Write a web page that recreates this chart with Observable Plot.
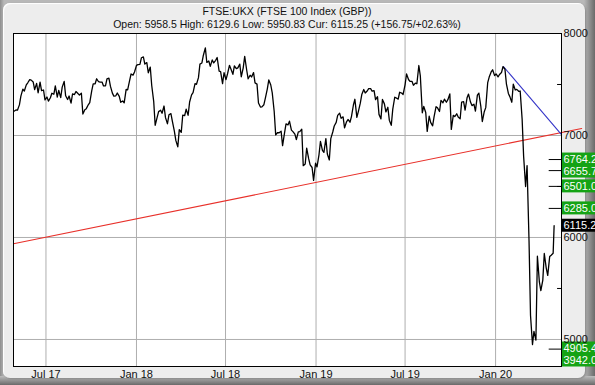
<!DOCTYPE html>
<html><head><meta charset="utf-8">
<script src="https://cdn.jsdelivr.net/npm/d3@7"></script>
<script src="https://cdn.jsdelivr.net/npm/@observablehq/plot@0.6"></script>
<style>
body{margin:0;background:#fff;}
#wrap{position:relative;width:595px;height:385px;overflow:hidden;background:linear-gradient(to right,#8e8e8e 0px,#b8b8b8 4px,#b8b8b8 584px,#6a6a6a 595px);font-family:"Liberation Sans",Arial,sans-serif;}
#bot{position:absolute;left:0;top:376px;width:595px;height:9px;background:linear-gradient(to bottom,#bdbdbd,#6a6a6a);}
#panel{position:absolute;left:3px;top:3px;width:582px;height:375px;background:#ededed;border-radius:7px;box-shadow:inset 1px 1px 1px #ffffff, 1px 1px 2px #8a8a8a;}
#chart{position:absolute;left:0;top:0;}
.t{position:absolute;left:13px;width:548px;text-align:center;font-size:10.5px;line-height:13px;color:#111;white-space:nowrap;}
</style></head>
<body>
<div id="wrap">
  <div id="bot"></div>
  <div id="panel"></div>
  <div class="t" style="top:5px">FTSE:UKX (FTSE 100 Index (GBP))</div>
  <div class="t" style="top:18px">Open: 5958.5 High: 6129.6 Low: 5950.83 Cur: 6115.25 (+156.75/+02.63%)</div>
  <div id="chart"></div>
</div>
<script>
// ---- data (Mon/Thu samples) ----
const start2017 = "2017-04-27";
const close2017 = [7237,7250,7248,7300,7386,7455,7436,7496,7517,7548,
  7543,7525,7450,7511,7419,7523,7439,7446,7350,
  7377,7337,7370,7414,7404,7487,7377,7443,7372,
  7474,7531,7389,7353,7387,7318,7407,7401,7431,
  7411,7397,7414,7210,7253,7263,7301,7323,
  7438,7507,7507,7556,7527,7523,7524,7486,7487,
  7555,7562,7484,7415,7386,7389,7417,7383,7326,
  7338,7320,7453,7448,7537,7603,7592,7622];
const start2018 = "2018-01-01";
const close2018 = [7688,7695,7697,7762,7770,7700,7715,7615,7671,
  7490,7335,7100,7177,7234,7248,7218,7289,
  7175,7115,7203,7214,7139,7042,6952,6888,7057,
  7030,7199,7194,7258,7198,7328,7398,7421,7509,
  7502,7567,7700,7711,7787,7859,7716,7730,7678,
  7741,7712,7737,7765,7631,7627,7509,7615,
  7547,7603,7688,7651,7600,7683,7655,7663,7700,
  7576,7663,7776,7642,7556,7591,7574,7617,7516,
  7504,7318,7279,7281,7302,7367,7458,7545,
  7495,7418,7233,7006,7029,7027,7042,6900,7026,
  7114,7104,7140,7053,7038,7013,6960,7036,7038,
  7062,6704,6721,6877,6773,6711,6686,6560,6728];
const start2019 = "2019-01-01";
const close2019 = [6692,6810,6943,6855,6834,6970,6818,6760,6969,
  7034,7093,7129,7197,7219,7168,7183,7075,
  7134,7157,7130,7185,7299,7355,7177,7234,
  7317,7401,7451,7417,7436,7460,7459,7434,7440,
  7351,7380,7207,7163,7353,7310,7231,7277,7150,
  7100,7259,7375,7368,7357,7424,7416,7402,
  7497,7603,7549,7530,7531,7493,7514,7507,7686,
  7585,7223,7285,7226,7040,7189,7128,7095,7184,
  7282,7271,7235,7344,7321,7356,7326,7351,7408,
  7060,7198,7186,7213,7182,7164,7328,7331,7248,
  7369,7406,7328,7293,7307,7239,7396,7416,
  7286,7137,7233,7273,7519,7573,7623,7644,7587];
const start2020 = "2020-01-01";
const close2020 = [7604,7575,7598,7617,7674,7651,7507,7412,7381,
  7326,7504,7446,7452,7433,7436,7156,6796,
  6500,6705,5965,5237,4950,5080,4994,5816,5564,
  5480,5582,5843,5700,5628,5813,5826,5846];
const lastDate = "2020-04-29";
const lastClose = 6115.25;

const trendDates = ["2017-04-26", "2020-06-24"];   // red support line
const trendValues = [5938, 7069];
const resistDates = ["2020-01-17", "2020-05-14"];  // blue line
const resistValues = [7676, 7008];

const targetLevels = [6764.2, 6655.7, 6501.0, 6285.0, 4905.4, 3942.0];
const targetLabels = ["6764.2", "6655.7", "6501.0", "6285.0", "4905.4", "3942.0"];
const currentLevel = 6115.2;
const currentLabel = "6115.2";

const xTickDates = ["2017-07-01","2018-01-01","2018-07-01","2019-01-01","2019-07-01","2020-01-01"];
const yTickValues = [8000, 7000, 6000, 5000];
const yMinorValues = [7500, 6500, 5500];
const xDomainDates = ["2017-04-26", "2020-05-14"];
const yDomainValues = [4735, 8000];

// ---- build ----
const parse = d3.utcParse("%Y-%m-%d");
function monThu(startStr, values) {
  const out = []; const d = parse(startStr); let i = 0;
  while (i < values.length) {
    const wd = d.getUTCDay();
    if (wd === 1 || wd === 4) { out.push({date: new Date(d), value: values[i]}); i++; }
    d.setUTCDate(d.getUTCDate() + 1);
  }
  return out;
}
const series = [
  ...monThu(start2017, close2017), ...monThu(start2018, close2018),
  ...monThu(start2019, close2019), ...monThu(start2020, close2020),
  {date: parse(lastDate), value: lastClose}
];
const trend = trendDates.map((d, i) => ({date: parse(d), value: trendValues[i]}));
const resist = resistDates.map((d, i) => ({date: parse(d), value: resistValues[i]}));
const xDomain = xDomainDates.map(parse);
const xEnd = xDomain[1];
const xTicks = xTickDates.map(parse);
const dayOff = (n) => new Date(+xEnd - n * 864e5);

const W = 595, H = 385;
const dims = {width: W, height: H, marginLeft: 13, marginRight: 34, marginTop: 33, marginBottom: 19};
const probe = Plot.plot({...dims, x: {type: "utc", domain: xDomain}, y: {domain: yDomainValues}, marks: []});
const ys = probe.scale("y");

// label layout in pixels (avoid overlap, keep inside the frame)
let labels = targetLevels.map((v, i) => ({v, text: targetLabels[i], fill: "#15a315"}))
  .concat([{v: currentLevel, text: currentLabel, fill: "#000000"}])
  .sort((a, b) => b.v - a.v);
const boxH = 12;
labels.forEach(l => l.py = ys.apply(l.v));
for (let i = 1; i < labels.length; i++) labels[i].py = Math.max(labels[i].py, labels[i-1].py + boxH);
const bottomPx = H - dims.marginBottom - boxH / 2;
labels[labels.length-1].py = Math.min(labels[labels.length-1].py, bottomPx);
for (let i = labels.length - 2; i >= 0; i--) labels[i].py = Math.min(labels[i].py, labels[i+1].py - boxH);
labels.forEach(l => { l.y = ys.invert(l.py); l.y1 = ys.invert(l.py + boxH/2 + 0.5); l.y2 = ys.invert(l.py - boxH/2 - 0.5); });
const greenLabels = labels.filter(l => l.fill !== "#000000");
const blackLabels = labels.filter(l => l.fill === "#000000");
const inRangeTargets = targetLevels.filter(v => v >= yDomainValues[0] && v <= yDomainValues[1]);
const farRight = new Date(+xEnd + 120 * 864e5);

const chart = Plot.plot({
  ...dims,
  x: {type: "utc", domain: xDomain, label: null},
  y: {domain: yDomainValues, label: null},
  style: {background: "transparent", fontFamily: "'Liberation Sans', Arial, sans-serif", fontSize: "11px", color: "#111", overflow: "visible"},
  marks: [
    Plot.frame({fill: "white"}),
    Plot.gridX(xTicks, {stroke: "#aeaeae", strokeOpacity: 1}),
    Plot.gridY(yTickValues, {stroke: "#aeaeae", strokeOpacity: 1}),
    Plot.ruleY(yMinorValues, {x1: dayOff(8), x2: xEnd, stroke: "#000"}),
    Plot.ruleY(inRangeTargets, {x1: dayOff(25), x2: xEnd, stroke: "#000"}),
    Plot.line(trend, {x: "date", y: "value", stroke: "#e8302a", strokeWidth: 1.1}),
    Plot.line(resist, {x: "date", y: "value", stroke: "#3636c8", strokeWidth: 1.1}),
    Plot.line(series, {x: "date", y: "value", stroke: "#000", strokeWidth: 1.3}),
    Plot.rect(greenLabels, {x1: xEnd, x2: farRight, y1: "y1", y2: "y2", fill: "#15a315"}),
    Plot.rect(blackLabels, {x1: xEnd, x2: farRight, y1: "y1", y2: "y2", fill: "#000"}),
    Plot.text(labels, {x: xEnd, y: "y", text: "text", textAnchor: "start", dx: 2, fill: "white", fontSize: 11}),
    Plot.axisX(xTicks, {tickSize: 0, tickPadding: 4, tickFormat: d3.utcFormat("%b %y"), fontSize: 11, label: null}),
    Plot.axisY(yTickValues, {anchor: "right", tickSize: 0, tickPadding: 2, tickFormat: d3.format("d"), fontSize: 11, label: null}),
    Plot.frame({stroke: "#000"})
  ]
});
document.getElementById("chart").appendChild(chart);
</script>
</body></html>
